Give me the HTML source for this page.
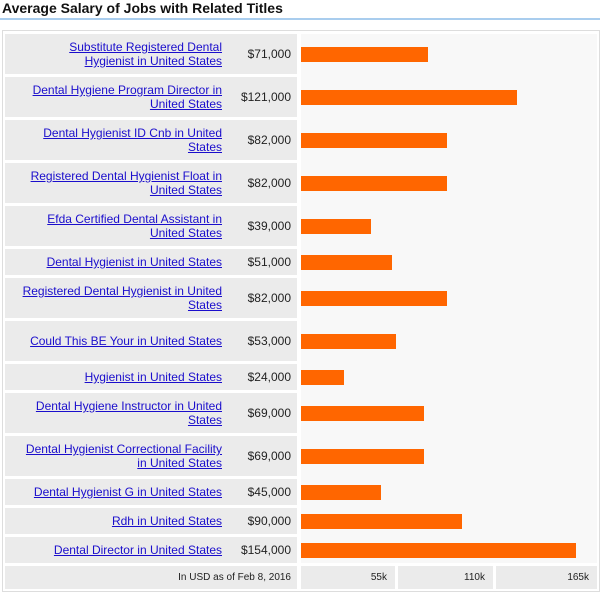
<!DOCTYPE html>
<html><head><meta charset="utf-8"><style>
body{margin:0;width:613px;height:603px;background:#fff;font-family:"Liberation Sans",Arial,sans-serif;position:relative;overflow:hidden}
.title{position:absolute;left:2px;top:0;font-size:14px;font-weight:bold;color:#111}
.rule{position:absolute;left:0;top:18px;width:600px;height:2px;background:#a9cdee}
.box{position:absolute;left:2px;top:30px;width:596px;height:560px;border:1px solid #ddd}
.barbg{position:absolute;left:301px;top:34px;width:296px;background:#f8f8f8}
.cell{position:absolute;left:5px;width:292px;background:#ebebeb;font-size:12px}
.lab{position:absolute;right:75px;width:200px;text-align:right;top:50%;transform:translateY(-50%);line-height:14px}
.lab a{color:#1a0dcc;text-decoration:underline}
.val{position:absolute;right:6px;top:50%;transform:translateY(-50%);color:#222}
.bar{position:absolute;left:301px;height:15px;background:#f60}
.ft{position:absolute;top:566px;height:23px;background:#ebebeb;font-size:10px;color:#222;line-height:23px;text-align:right}
</style></head><body>
<div class="title">Average Salary of Jobs with Related Titles</div>
<div class="rule"></div>
<div class="box"></div>
<div class="barbg" id="barbg"></div>
<div id="rows"></div>
<div class="ft" style="left:5px;width:286px;padding-right:6px">In USD as of Feb 8, 2016</div>
<div class="ft" id="t0"></div>
<div class="ft" id="t1"></div>
<div class="ft" id="t2"></div>
<script>
const titles=["Substitute Registered Dental Hygienist in United States","Dental Hygiene Program Director in United States","Dental Hygienist ID Cnb in United States","Registered Dental Hygienist Float in United States","Efda Certified Dental Assistant in United States","Dental Hygienist in United States","Registered Dental Hygienist in United States","Could This BE Your in United States","Hygienist in United States","Dental Hygiene Instructor in United States","Dental Hygienist Correctional Facility in United States","Dental Hygienist G in United States","Rdh in United States","Dental Director in United States"];
const salaries=[71000,121000,82000,82000,39000,51000,82000,53000,24000,69000,69000,45000,90000,154000];
const twoLine=[1,1,1,1,1,0,1,1,0,1,1,0,0,0];
const ticks=[55000,110000,165000];
const tickLabels=["55k","110k","165k"];
const x0=301,pxPer=275/154000;
function xs(v){return x0+v*pxPer;}
const rows=document.getElementById('rows');
let y=34;
titles.forEach((t,i)=>{
  const h=twoLine[i]?40:26;
  const c=document.createElement('div');c.className='cell';
  
  
  c.style.top=y+'px';c.style.height=h+'px';
  c.innerHTML='<div class="lab"><a href="#">'+t+'</a></div><div class="val">$'+salaries[i].toLocaleString('en-US')+'</div>';
  rows.appendChild(c);
  const b=document.createElement('div');b.className='bar';
  
  
  b.style.top=(y+h/2-7)+'px';b.style.width=(xs(salaries[i])-x0)+'px';
  rows.appendChild(b);
  y+=h+3;
});
document.getElementById('barbg').style.height=(y-3-34)+'px';
let prev=x0;
ticks.forEach((v,i)=>{
  const e=document.getElementById('t'+i);
  const r=Math.min(xs(v),597);
  const end=i<2?Math.round(xs(v))-4:597;
  e.style.left=prev+'px';e.style.width=(end-prev-8)+'px';e.style.paddingRight='8px';
  e.textContent=tickLabels[i];prev=end+3;
});
</script>
</body></html>
